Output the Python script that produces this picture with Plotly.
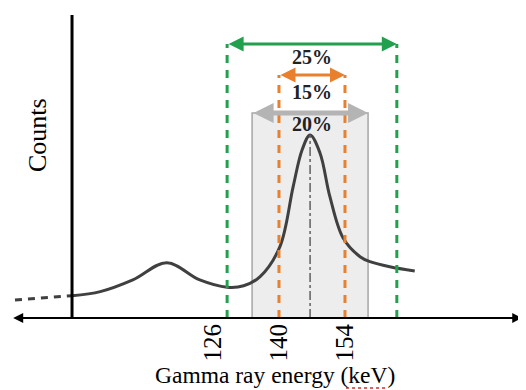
import plotly.graph_objects as go

# ---- data (energy in keV, counts in arbitrary units, peak = 100) ----
energy = [96.1, 102.1, 109.0, 116.2, 123.2, 129.0, 132.5, 136.0, 140.2, 143.0,
          144.9, 146.6, 148.7, 150.8, 153.6, 157.2, 159.3, 163.5, 168.8]
counts = [12.2, 14.4, 20.8, 30.2, 20.8, 16.8, 17.6, 22.6, 39.0, 71.7,
          91.8, 100.0, 90.2, 66.3, 43.7, 33.5, 30.8, 28.0, 25.7]

tail_energy = [84.0, 96.1]
tail_counts = [9.8, 12.2]

peak_energy = 146.6
peak_counts = 100.0

tick_values = [126, 140, 154]
tick_labels = ["126", "140", "154"]

window_labels = ["25%", "15%", "20%"]
window_low = [129.0, 140.0, 134.3]
window_high = [165.0, 154.0, 158.9]
window_level = [149.7, 132.8, 112.0]
label_level = [142.6, 123.5, 106.0]

# ---- styles ----
GREEN = "#22A04E"
ORANGE = "#E8802E"
GREY_ARROW = "#B4B4B4"
CURVE = "#404040"
FONT = "Liberation Serif"

# page body has an 8px margin, so the figure is 8px smaller and shifted
X_RANGE = [82.52, 192.4]
Y_RANGE = [0, 169.4]
AXIS_LEFT, AXIS_RIGHT, Y_TOP = 83.3, 191.6, 165.6

fig = go.Figure()

# energy window box (20%)
fig.add_shape(type="rect", x0=window_low[2], x1=window_high[2], y0=0, y1=window_level[2],
              fillcolor="rgba(215,215,215,0.45)", line=dict(color="#A6A6A6", width=1.5),
              layer="below")

# spectrum
fig.add_trace(go.Scatter(x=energy, y=counts, mode="lines",
                         line=dict(color=CURVE, width=3, shape="spline", smoothing=1.0),
                         hoverinfo="skip", showlegend=False))
fig.add_trace(go.Scatter(x=tail_energy, y=tail_counts, mode="lines",
                         line=dict(color=CURVE, width=3, dash="7px,6px"),
                         hoverinfo="skip", showlegend=False))

# center dash-dot line
fig.add_shape(type="line", x0=peak_energy, x1=peak_energy, y0=0, y1=peak_counts,
              line=dict(color="#606060", width=1.5, dash="dashdot"))

# window dashed verticals
colors = [GREEN, ORANGE]
for i in range(2):
    for xv in (window_low[i], window_high[i]):
        fig.add_shape(type="line", x0=xv, x1=xv, y0=0, y1=window_level[i],
                      line=dict(color=colors[i], width=3, dash="8px,7px"))

# window arrows
arrow_colors = [GREEN, ORANGE, GREY_ARROW]
arrow_widths = [3, 3, 5]
arrow_sizes = [1, 1, 0.8]
for i in range(3):
    fig.add_annotation(x=window_high[i], y=window_level[i], ax=window_low[i], ay=window_level[i],
                       xref="x", yref="y", axref="x", ayref="y", text="", showarrow=True,
                       arrowhead=2, arrowside="end+start", arrowsize=arrow_sizes[i],
                       arrowwidth=arrow_widths[i], arrowcolor=arrow_colors[i])
    fig.add_annotation(x=(window_low[0] + window_high[0]) / 2, y=label_level[i],
                       text="<b>" + window_labels[i] + "</b>", showarrow=False,
                       font=dict(family=FONT, size=20, color="#222222"))

# axes
fig.add_annotation(x=AXIS_RIGHT, y=0, ax=AXIS_LEFT, ay=0, xref="x", yref="y",
                   axref="x", ayref="y", text="", showarrow=True, arrowhead=2,
                   arrowside="end+start", arrowsize=1, arrowwidth=2, arrowcolor="black")
fig.add_shape(type="line", x0=energy[0], x1=energy[0], y0=0, y1=Y_TOP,
              line=dict(color="black", width=3))

fig.add_annotation(x=88.67, y=100, text="Counts", textangle=-90, showarrow=False,
                   xref="x", yref="y", font=dict(family=FONT, size=26, color="black"))
fig.add_annotation(x=267 / 518, y=-0.184, xref="paper", yref="paper",
                   text="Gamma ray energy (keV)", showarrow=False, yanchor="middle",
                   font=dict(family=FONT, size=23.5, color="black"))
# spell-check style underline under "keV"
fig.add_shape(type="line", xref="paper", yref="paper", x0=338 / 518, x1=378 / 518,
              y0=-0.226, y1=-0.226, line=dict(color="#D03030", width=1.5, dash="dot"))

fig.update_layout(
    width=518, height=382,
    margin=dict(l=0, r=0, t=0, b=72),
    paper_bgcolor="white", plot_bgcolor="white",
    xaxis=dict(range=X_RANGE, showgrid=False, zeroline=False, showline=False,
               tickvals=tick_values, ticktext=tick_labels, tickangle=-90, ticks="",
               tickfont=dict(family=FONT, size=25, color="black")),
    yaxis=dict(range=Y_RANGE, visible=False),
    showlegend=False,
)

fig.write_html("out.html")
